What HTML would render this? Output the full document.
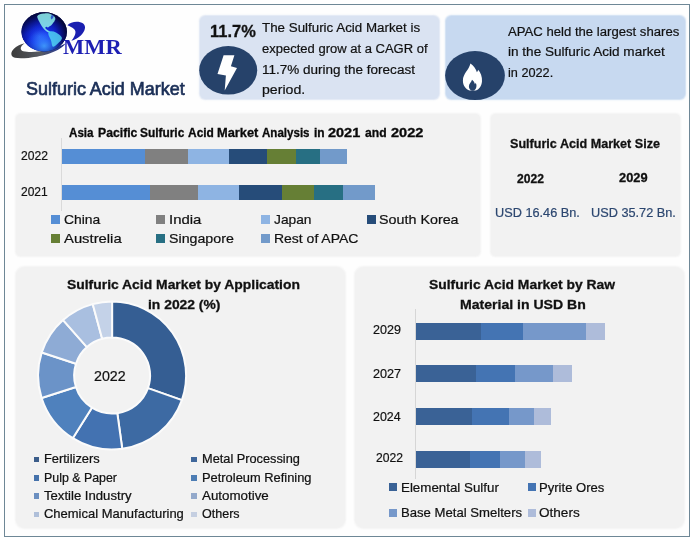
<!DOCTYPE html>
<html><head><meta charset="utf-8"><title>Sulfuric Acid Market</title>
<style>
html,body{margin:0;padding:0;background:#ffffff;}
body{width:694px;height:541px;position:relative;overflow:hidden;font-family:'Liberation Sans', sans-serif;}
</style></head><body>
<div style="position:absolute;left:4px;top:4px;width:686px;height:533px;border:1px solid #6e8796;box-sizing:border-box;background:#fefefe"></div>
<div style="position:absolute;left:199.8px;top:15.5px;width:239.5px;height:83.2px;background:#dae3f2;border-radius:6px;box-shadow:0 0 1.5px 0.2px rgba(218,227,242,0.9);"></div>
<div style="position:absolute;left:445.6px;top:15.5px;width:239.7px;height:83.0px;background:#c7d9f0;border-radius:6px;box-shadow:0 0 1.5px 0.2px rgba(199,217,240,0.9);"></div>
<div style="position:absolute;left:16.1px;top:114.2px;width:464.0px;height:141.7px;background:#f2f2f2;border-radius:5px;box-shadow:0 0 1.6px 0.3px rgba(242,242,242,0.95);"></div>
<div style="position:absolute;left:490.9px;top:114.2px;width:189.0px;height:141.7px;background:#f2f2f2;border-radius:5px;box-shadow:0 0 1.6px 0.3px rgba(242,242,242,0.95);"></div>
<div style="position:absolute;left:16.1px;top:266.7px;width:329.4px;height:261.7px;background:#f2f2f2;border-radius:9px;box-shadow:0 0 1.6px 0.3px rgba(242,242,242,0.95);"></div>
<div style="position:absolute;left:354.5px;top:266.7px;width:329.5px;height:261.7px;background:#f2f2f2;border-radius:9px;box-shadow:0 0 1.6px 0.3px rgba(242,242,242,0.95);"></div>
<div style="position:absolute;left:61.8px;top:148.9px;width:83.5px;height:14.9px;background:#558ed5;border-radius:0px;"></div>
<div style="position:absolute;left:145.3px;top:148.9px;width:42.5px;height:14.9px;background:#808080;border-radius:0px;"></div>
<div style="position:absolute;left:187.8px;top:148.9px;width:41.2px;height:14.9px;background:#8eb4e3;border-radius:0px;"></div>
<div style="position:absolute;left:229.0px;top:148.9px;width:38.0px;height:14.9px;background:#264c79;border-radius:0px;"></div>
<div style="position:absolute;left:267.0px;top:148.9px;width:29.4px;height:14.9px;background:#667f35;border-radius:0px;"></div>
<div style="position:absolute;left:296.4px;top:148.9px;width:23.9px;height:14.9px;background:#276f83;border-radius:0px;"></div>
<div style="position:absolute;left:320.3px;top:148.9px;width:26.8px;height:14.9px;background:#729aca;border-radius:0px;"></div>
<div style="position:absolute;left:61.8px;top:185.1px;width:87.9px;height:15.0px;background:#558ed5;border-radius:0px;"></div>
<div style="position:absolute;left:149.7px;top:185.1px;width:48.0px;height:15.0px;background:#808080;border-radius:0px;"></div>
<div style="position:absolute;left:197.7px;top:185.1px;width:41.4px;height:15.0px;background:#8eb4e3;border-radius:0px;"></div>
<div style="position:absolute;left:239.1px;top:185.1px;width:42.6px;height:15.0px;background:#264c79;border-radius:0px;"></div>
<div style="position:absolute;left:281.7px;top:185.1px;width:32.6px;height:15.0px;background:#667f35;border-radius:0px;"></div>
<div style="position:absolute;left:314.3px;top:185.1px;width:28.8px;height:15.0px;background:#276f83;border-radius:0px;"></div>
<div style="position:absolute;left:343.1px;top:185.1px;width:32.0px;height:15.0px;background:#729aca;border-radius:0px;"></div>
<div style="position:absolute;left:61.2px;top:138.0px;width:0.8px;height:72.5px;background:#dadada;border-radius:0px;"></div>
<div style="position:absolute;left:51.1px;top:215.0px;width:8.6px;height:8.7px;background:#558ed5;border-radius:0px;"></div>
<div style="position:absolute;left:156.3px;top:215.0px;width:8.6px;height:8.7px;background:#808080;border-radius:0px;"></div>
<div style="position:absolute;left:261.1px;top:215.0px;width:8.6px;height:8.7px;background:#8eb4e3;border-radius:0px;"></div>
<div style="position:absolute;left:367.4px;top:215.0px;width:8.6px;height:8.7px;background:#264c79;border-radius:0px;"></div>
<div style="position:absolute;left:51.1px;top:234.1px;width:8.6px;height:8.7px;background:#667f35;border-radius:0px;"></div>
<div style="position:absolute;left:156.3px;top:234.1px;width:8.6px;height:8.7px;background:#276f83;border-radius:0px;"></div>
<div style="position:absolute;left:261.1px;top:234.1px;width:8.6px;height:8.7px;background:#729aca;border-radius:0px;"></div>
<div style="position:absolute;left:415.8px;top:322.8px;width:65.2px;height:16.8px;background:#3a6296;border-radius:0px;"></div>
<div style="position:absolute;left:481.0px;top:322.8px;width:41.8px;height:16.8px;background:#4474b3;border-radius:0px;"></div>
<div style="position:absolute;left:522.8px;top:322.8px;width:63.4px;height:16.8px;background:#7698ca;border-radius:0px;"></div>
<div style="position:absolute;left:586.2px;top:322.8px;width:18.8px;height:16.8px;background:#aebcda;border-radius:0px;"></div>
<div style="position:absolute;left:415.8px;top:365.2px;width:60.3px;height:17.3px;background:#3a6296;border-radius:0px;"></div>
<div style="position:absolute;left:476.1px;top:365.2px;width:38.7px;height:17.3px;background:#4474b3;border-radius:0px;"></div>
<div style="position:absolute;left:514.8px;top:365.2px;width:38.3px;height:17.3px;background:#7698ca;border-radius:0px;"></div>
<div style="position:absolute;left:553.1px;top:365.2px;width:18.7px;height:17.3px;background:#aebcda;border-radius:0px;"></div>
<div style="position:absolute;left:415.8px;top:408.0px;width:56.0px;height:16.8px;background:#3a6296;border-radius:0px;"></div>
<div style="position:absolute;left:471.8px;top:408.0px;width:37.0px;height:16.8px;background:#4474b3;border-radius:0px;"></div>
<div style="position:absolute;left:508.8px;top:408.0px;width:25.0px;height:16.8px;background:#7698ca;border-radius:0px;"></div>
<div style="position:absolute;left:533.8px;top:408.0px;width:17.0px;height:16.8px;background:#aebcda;border-radius:0px;"></div>
<div style="position:absolute;left:415.8px;top:451.3px;width:54.0px;height:16.4px;background:#3a6296;border-radius:0px;"></div>
<div style="position:absolute;left:469.8px;top:451.3px;width:30.2px;height:16.4px;background:#4474b3;border-radius:0px;"></div>
<div style="position:absolute;left:500.0px;top:451.3px;width:24.9px;height:16.4px;background:#7698ca;border-radius:0px;"></div>
<div style="position:absolute;left:524.9px;top:451.3px;width:16.1px;height:16.4px;background:#aebcda;border-radius:0px;"></div>
<div style="position:absolute;left:415.0px;top:309.3px;width:0.9px;height:169.4px;background:#d6d6d6;border-radius:0px;"></div>
<div style="position:absolute;left:389.1px;top:483.4px;width:7.9px;height:7.9px;background:#3a6296;border-radius:0px;"></div>
<div style="position:absolute;left:528.2px;top:483.4px;width:7.9px;height:7.9px;background:#4474b3;border-radius:0px;"></div>
<div style="position:absolute;left:389.1px;top:508.9px;width:7.9px;height:7.9px;background:#7698ca;border-radius:0px;"></div>
<div style="position:absolute;left:528.2px;top:508.9px;width:7.9px;height:7.9px;background:#aebcda;border-radius:0px;"></div>
<div style="position:absolute;left:33.5px;top:456.6px;width:5.9px;height:5.6px;background:#3b5d8a;border-radius:0px;"></div>
<div style="position:absolute;left:33.5px;top:475.2px;width:5.9px;height:5.6px;background:#4572ab;border-radius:0px;"></div>
<div style="position:absolute;left:33.5px;top:493.4px;width:5.9px;height:5.6px;background:#6b8fc0;border-radius:0px;"></div>
<div style="position:absolute;left:33.5px;top:511.6px;width:5.9px;height:5.6px;background:#afbfd9;border-radius:0px;"></div>
<div style="position:absolute;left:191.2px;top:456.6px;width:5.9px;height:5.6px;background:#3f679b;border-radius:0px;"></div>
<div style="position:absolute;left:191.2px;top:475.2px;width:5.9px;height:5.6px;background:#4d7db4;border-radius:0px;"></div>
<div style="position:absolute;left:191.2px;top:493.4px;width:5.9px;height:5.6px;background:#93a9cb;border-radius:0px;"></div>
<div style="position:absolute;left:191.2px;top:511.6px;width:5.9px;height:5.6px;background:#c5cfe1;border-radius:0px;"></div>
<svg width="694" height="541" viewBox="0 0 694 541" style="position:absolute;left:0;top:0">
<defs>
<radialGradient id="gl" cx="0.42" cy="0.58" r="0.58" fx="0.40" fy="0.62">
<stop offset="0" stop-color="#2a5cff"/><stop offset="0.35" stop-color="#1632f0"/>
<stop offset="0.62" stop-color="#0e1fc0"/><stop offset="0.85" stop-color="#080f70"/><stop offset="1" stop-color="#04073a"/>
</radialGradient>
<linearGradient id="gl3" x1="0.1" y1="0.05" x2="0.55" y2="0.6">
<stop offset="0" stop-color="#02042c" stop-opacity="0.75"/><stop offset="0.55" stop-color="#02042c" stop-opacity="0.15"/><stop offset="1" stop-color="#02042c" stop-opacity="0"/>
</linearGradient>
<radialGradient id="gl2" cx="0.5" cy="0.86" r="0.42">
<stop offset="0" stop-color="#46a8ff" stop-opacity="0.85"/><stop offset="1" stop-color="#2a78f6" stop-opacity="0"/>
</radialGradient>
<linearGradient id="sw" x1="0" y1="0" x2="1" y2="0">
<stop offset="0" stop-color="#3c3c3c"/><stop offset="0.55" stop-color="#575b63"/><stop offset="0.85" stop-color="#2d3c8c"/><stop offset="1" stop-color="#0e1a7a"/>
</linearGradient>
<filter id="b1" x="-10%" y="-10%" width="120%" height="120%"><feGaussianBlur stdDeviation="0.45"/></filter>
</defs>
<!-- logo -->
<path d="M11.8,55.8 C9.6,51 15.5,45.6 24.6,43.2 C20.2,46.2 19.4,49.8 23.2,51.2 C33,53.6 52,50.6 65.4,43.6 C60.5,51.2 43.5,56.6 28.5,57.9 C19.5,58.7 13.3,58.4 11.8,55.8 Z" fill="url(#sw)" filter="url(#b1)"/>
<ellipse cx="44.2" cy="31.8" rx="22.7" ry="19.6" fill="#07105e"/>
<ellipse cx="44.2" cy="31.8" rx="22.7" ry="19.6" fill="url(#gl)"/>
<ellipse cx="44.2" cy="31.8" rx="22.7" ry="19.6" fill="url(#gl3)"/>
<ellipse cx="44.2" cy="31.8" rx="22.7" ry="19.6" fill="url(#gl2)"/>
<g filter="url(#b1)">
<path d="M37.2,16.2 C38.6,14.2 41.5,13.4 44.5,13.6 C46.5,12.9 49.5,13.3 51.5,14.6 C53.8,15.6 55.6,17.4 55.4,19.2 C54.6,20 54.8,21.4 53.4,22.4 C52.6,23.6 51.6,25.4 49.8,26.2 C48.6,26.4 48.6,27.8 47.6,27.4 C46.8,26.4 45.6,26.8 45.2,27.8 C45.6,29.2 47.4,30 49,31 C50,31.6 50.6,32.4 50.2,33 C48.6,32.8 46.4,31.6 44.6,29.8 C42.6,27.6 40.6,24.6 39.2,21.6 C38.2,19.6 37.2,18 37.2,16.2 Z" fill="#8cecea" opacity="0.88"/>
<path d="M48.8,31.6 C50.8,30.8 53.6,31 56,32.4 C58.6,33.8 61.4,35.8 62,38 C61.8,40 59.6,41.8 57.6,43.8 C56,45.4 54.4,47 52.8,46.8 C51.6,45.4 51.8,43 51,40.6 C50.2,38 48.4,35.6 48.2,33.4 Z" fill="#4fd0f2" opacity="0.85"/>
</g>
<path d="M52,14.8 C50.5,16.5 50.2,18.6 51.6,19.4 C52.6,18.6 53.4,17.4 53.8,16 Z" fill="#1436c8" opacity="0.75"/>
<path d="M67.4,25.2 C70.5,21.6 79,20.6 83.2,23.6 C86.6,26.4 85,31.6 80.8,35.6 C78,38.2 74.6,40 71.4,40.8 C74.2,37.4 76.2,33.6 75.2,30.8 C74.2,28 70.4,26.6 67.4,25.2 Z" fill="#1a1fb0"/>
<!-- bolt icon -->
<ellipse cx="228.2" cy="70.3" rx="29" ry="24.2" fill="#26426a"/>
<path d="M223.6,55.3 L234.4,55.3 L230.9,66.3 L237.0,67.9 L224.7,90.4 L225.9,75.4 L217.5,73.9 Z" fill="#ffffff"/>
<!-- flame icon -->
<ellipse cx="475" cy="75.6" rx="29.9" ry="24.5" fill="#26426a"/>
<path d="M470.4,63.6 C473.5,65.5 476.2,69.5 476.9,72.2 C477.6,71.4 478.0,70.6 478.1,69.7 C480.6,72.3 482.3,76.6 482.0,81.3 C481.7,86.4 478.6,89.8 476.0,90.5 L469.6,90.5 C466.0,89.4 462.9,86.0 462.9,80.6 C462.9,73.8 469.0,70.0 470.4,63.6 Z" fill="#ffffff"/>
<path d="M472.0,79.8 C473.6,81.0 474.6,82.6 474.9,84.2 C475.3,83.8 475.5,83.3 475.6,82.8 C476.4,84.0 476.7,85.6 476.3,87.3 C475.9,89.0 474.7,90.3 473.4,90.7 L472.0,90.7 C470.3,90.2 468.9,88.6 468.9,86.4 C468.9,83.5 471.4,82.4 472.0,79.8 Z" fill="#26426a"/>
<!-- donut -->
<path d="M112.10,301.50 A74.0,74.0 0 0 1 181.90,400.08 L147.94,388.12 A38.0,38.0 0 0 0 112.10,337.50 Z" fill="#355e93" stroke="#fbfbfb" stroke-width="2" stroke-linejoin="round"/>
<path d="M181.90,400.08 A74.0,74.0 0 0 1 122.27,448.80 L117.32,413.14 A38.0,38.0 0 0 0 147.94,388.12 Z" fill="#3d6aa3" stroke="#fbfbfb" stroke-width="2" stroke-linejoin="round"/>
<path d="M122.27,448.80 A74.0,74.0 0 0 1 72.78,438.19 L91.91,407.69 A38.0,38.0 0 0 0 117.32,413.14 Z" fill="#4372b1" stroke="#fbfbfb" stroke-width="2" stroke-linejoin="round"/>
<path d="M72.78,438.19 A74.0,74.0 0 0 1 41.60,398.00 L75.90,387.05 A38.0,38.0 0 0 0 91.91,407.69 Z" fill="#4f81bd" stroke="#fbfbfb" stroke-width="2" stroke-linejoin="round"/>
<path d="M41.60,398.00 A74.0,74.0 0 0 1 41.76,352.51 L75.98,363.69 A38.0,38.0 0 0 0 75.90,387.05 Z" fill="#6b93c8" stroke="#fbfbfb" stroke-width="2" stroke-linejoin="round"/>
<path d="M41.76,352.51 A74.0,74.0 0 0 1 63.07,320.08 L86.92,347.04 A38.0,38.0 0 0 0 75.98,363.69 Z" fill="#8eabd5" stroke="#fbfbfb" stroke-width="2" stroke-linejoin="round"/>
<path d="M63.07,320.08 A74.0,74.0 0 0 1 92.70,304.09 L102.14,338.83 A38.0,38.0 0 0 0 86.92,347.04 Z" fill="#a9bfe0" stroke="#fbfbfb" stroke-width="2" stroke-linejoin="round"/>
<path d="M92.70,304.09 A74.0,74.0 0 0 1 112.10,301.50 L112.10,337.50 A38.0,38.0 0 0 0 102.14,338.83 Z" fill="#c4d2e8" stroke="#fbfbfb" stroke-width="2" stroke-linejoin="round"/>
</svg>
<span id="t0" style="position:absolute;left:62.72px;top:36.85px;font:700 20px/20px 'Liberation Serif', serif;color:#1d1fb3;white-space:nowrap;transform-origin:0 0;transform:scaleX(1.1254);">MMR</span>
<span id="t1" style="position:absolute;left:26.22px;top:79.98px;font:400 18.81px/18.81px 'Liberation Sans', sans-serif;color:#1b2f57;white-space:nowrap;transform-origin:0 0;transform:scaleX(0.9551);-webkit-text-stroke:0.7px #1b2f57;">Sulfuric Acid Market</span>
<span id="t2" style="position:absolute;left:209.71px;top:23.85px;font:700 16.72px/16.72px 'Liberation Sans', sans-serif;color:#111;white-space:nowrap;transform-origin:0 0;transform:scaleX(0.9856);-webkit-text-stroke:0.3px #111;">11.7%</span>
<span id="t3" style="position:absolute;left:261.98px;top:20.81px;font:400 13.69px/13.69px 'Liberation Sans', sans-serif;color:#111;white-space:nowrap;transform-origin:0 0;transform:scaleX(0.9757);-webkit-text-stroke:0.22px #111;">The Sulfuric Acid Market is</span>
<span id="t4" style="position:absolute;left:262.01px;top:41.81px;font:400 13.69px/13.69px 'Liberation Sans', sans-serif;color:#111;white-space:nowrap;transform-origin:0 0;transform:scaleX(0.9501);-webkit-text-stroke:0.22px #111;">expected grow at a CAGR of</span>
<span id="t5" style="position:absolute;left:261.97px;top:62.61px;font:400 13.69px/13.69px 'Liberation Sans', sans-serif;color:#111;white-space:nowrap;transform-origin:0 0;transform:scaleX(0.9866);-webkit-text-stroke:0.22px #111;">11.7% during the forecast</span>
<span id="t6" style="position:absolute;left:261.93px;top:82.71px;font:400 13.69px/13.69px 'Liberation Sans', sans-serif;color:#111;white-space:nowrap;transform-origin:0 0;transform:scaleX(1.0325);-webkit-text-stroke:0.22px #111;">period.</span>
<span id="t7" style="position:absolute;left:508.20px;top:24.91px;font:400 13.69px/13.69px 'Liberation Sans', sans-serif;color:#111;white-space:nowrap;transform-origin:0 0;transform:scaleX(0.9593);-webkit-text-stroke:0.22px #111;">APAC held the largest shares</span>
<span id="t8" style="position:absolute;left:508.17px;top:45.01px;font:400 13.69px/13.69px 'Liberation Sans', sans-serif;color:#111;white-space:nowrap;transform-origin:0 0;transform:scaleX(0.9910);-webkit-text-stroke:0.22px #111;">in the Sulfuric Acid market</span>
<span id="t9" style="position:absolute;left:508.23px;top:65.71px;font:400 13.69px/13.69px 'Liberation Sans', sans-serif;color:#111;white-space:nowrap;transform-origin:0 0;transform:scaleX(0.9277);-webkit-text-stroke:0.22px #111;">in 2022.</span>
<span id="t10" style="position:absolute;left:69.26px;top:126.93px;font:700 12.02px/12.02px 'Liberation Sans', sans-serif;color:#0a0a0a;white-space:nowrap;transform-origin:0 0;transform:scaleX(0.9663);-webkit-text-stroke:0.3px #0a0a0a;">Asia</span>
<span id="t11" style="position:absolute;left:97.54px;top:126.93px;font:700 12.02px/12.02px 'Liberation Sans', sans-serif;color:#0a0a0a;white-space:nowrap;transform-origin:0 0;transform:scaleX(1.0172);-webkit-text-stroke:0.3px #0a0a0a;">Pacific</span>
<span id="t12" style="position:absolute;left:140.35px;top:126.93px;font:700 12.02px/12.02px 'Liberation Sans', sans-serif;color:#0a0a0a;white-space:nowrap;transform-origin:0 0;transform:scaleX(0.9898);-webkit-text-stroke:0.3px #0a0a0a;">Sulfuric</span>
<span id="t13" style="position:absolute;left:188.45px;top:126.93px;font:700 12.02px/12.02px 'Liberation Sans', sans-serif;color:#0a0a0a;white-space:nowrap;transform-origin:0 0;transform:scaleX(0.9941);-webkit-text-stroke:0.3px #0a0a0a;">Acid</span>
<span id="t14" style="position:absolute;left:217.10px;top:126.93px;font:700 12.02px/12.02px 'Liberation Sans', sans-serif;color:#0a0a0a;white-space:nowrap;transform-origin:0 0;transform:scaleX(1.0684);-webkit-text-stroke:0.3px #0a0a0a;">Market</span>
<span id="t15" style="position:absolute;left:262.46px;top:126.93px;font:700 12.02px/12.02px 'Liberation Sans', sans-serif;color:#0a0a0a;white-space:nowrap;transform-origin:0 0;transform:scaleX(0.9621);-webkit-text-stroke:0.3px #0a0a0a;">Analysis</span>
<span id="t16" style="position:absolute;left:314.05px;top:126.93px;font:700 12.02px/12.02px 'Liberation Sans', sans-serif;color:#0a0a0a;white-space:nowrap;transform-origin:0 0;transform:scaleX(0.9946);-webkit-text-stroke:0.3px #0a0a0a;">in</span>
<span id="t17" style="position:absolute;left:328.30px;top:126.93px;font:700 12.02px/12.02px 'Liberation Sans', sans-serif;color:#0a0a0a;white-space:nowrap;transform-origin:0 0;transform:scaleX(1.2038);-webkit-text-stroke:0.3px #0a0a0a;">2021</span>
<span id="t18" style="position:absolute;left:364.85px;top:126.93px;font:700 12.02px/12.02px 'Liberation Sans', sans-serif;color:#0a0a0a;white-space:nowrap;transform-origin:0 0;transform:scaleX(1.0098);-webkit-text-stroke:0.3px #0a0a0a;">and</span>
<span id="t19" style="position:absolute;left:390.80px;top:126.93px;font:700 12.02px/12.02px 'Liberation Sans', sans-serif;color:#0a0a0a;white-space:nowrap;transform-origin:0 0;transform:scaleX(1.2076);-webkit-text-stroke:0.3px #0a0a0a;">2022</span>
<span id="t20" style="position:absolute;left:21.15px;top:148.70px;font:400 13.58px/13.58px 'Liberation Sans', sans-serif;color:#111;white-space:nowrap;transform-origin:0 0;transform:scaleX(0.8931);-webkit-text-stroke:0.22px #111;">2022</span>
<span id="t21" style="position:absolute;left:21.16px;top:184.70px;font:400 13.58px/13.58px 'Liberation Sans', sans-serif;color:#111;white-space:nowrap;transform-origin:0 0;transform:scaleX(0.8855);-webkit-text-stroke:0.22px #111;">2021</span>
<span id="t22" style="position:absolute;left:64.35px;top:212.70px;font:400 13.58px/13.58px 'Liberation Sans', sans-serif;color:#111;white-space:nowrap;transform-origin:0 0;transform:scaleX(1.0212);-webkit-text-stroke:0.22px #111;">China</span>
<span id="t23" style="position:absolute;left:168.87px;top:212.70px;font:400 13.58px/13.58px 'Liberation Sans', sans-serif;color:#111;white-space:nowrap;transform-origin:0 0;transform:scaleX(1.0995);-webkit-text-stroke:0.22px #111;">India</span>
<span id="t24" style="position:absolute;left:274.05px;top:212.70px;font:400 13.58px/13.58px 'Liberation Sans', sans-serif;color:#111;white-space:nowrap;transform-origin:0 0;transform:scaleX(1.0137);-webkit-text-stroke:0.22px #111;">Japan</span>
<span id="t25" style="position:absolute;left:379.41px;top:212.70px;font:400 13.58px/13.58px 'Liberation Sans', sans-serif;color:#111;white-space:nowrap;transform-origin:0 0;transform:scaleX(1.0541);-webkit-text-stroke:0.22px #111;">South Korea</span>
<span id="t26" style="position:absolute;left:64.27px;top:231.80px;font:400 13.58px/13.58px 'Liberation Sans', sans-serif;color:#111;white-space:nowrap;transform-origin:0 0;transform:scaleX(1.0911);-webkit-text-stroke:0.22px #111;">Austrelia</span>
<span id="t27" style="position:absolute;left:168.92px;top:231.80px;font:400 13.58px/13.58px 'Liberation Sans', sans-serif;color:#111;white-space:nowrap;transform-origin:0 0;transform:scaleX(1.0468);-webkit-text-stroke:0.22px #111;">Singapore</span>
<span id="t28" style="position:absolute;left:274.04px;top:231.80px;font:400 13.58px/13.58px 'Liberation Sans', sans-serif;color:#111;white-space:nowrap;transform-origin:0 0;transform:scaleX(1.0290);-webkit-text-stroke:0.22px #111;">Rest of APAC</span>
<span id="t29" style="position:absolute;left:510.17px;top:136.50px;font:700 13.58px/13.58px 'Liberation Sans', sans-serif;color:#111;white-space:nowrap;transform-origin:0 0;transform:scaleX(0.9271);-webkit-text-stroke:0.3px #111;">Sulfuric Acid Market Size</span>
<span id="t30" style="position:absolute;left:517.18px;top:171.60px;font:700 13.58px/13.58px 'Liberation Sans', sans-serif;color:#111;white-space:nowrap;transform-origin:0 0;transform:scaleX(0.8915);-webkit-text-stroke:0.3px #111;">2022</span>
<span id="t31" style="position:absolute;left:619.06px;top:170.70px;font:700 13.58px/13.58px 'Liberation Sans', sans-serif;color:#111;white-space:nowrap;transform-origin:0 0;transform:scaleX(0.9458);-webkit-text-stroke:0.3px #111;">2029</span>
<span id="t32" style="position:absolute;left:495.26px;top:205.50px;font:400 13.58px/13.58px 'Liberation Sans', sans-serif;color:#2c4770;white-space:nowrap;transform-origin:0 0;transform:scaleX(0.9367);-webkit-text-stroke:0.22px #2c4770;">USD 16.46 Bn.</span>
<span id="t33" style="position:absolute;left:591.16px;top:205.50px;font:400 13.58px/13.58px 'Liberation Sans', sans-serif;color:#2c4770;white-space:nowrap;transform-origin:0 0;transform:scaleX(0.9367);-webkit-text-stroke:0.22px #2c4770;">USD 35.72 Bn.</span>
<span id="t34" style="position:absolute;left:67.44px;top:277.60px;font:700 13.58px/13.58px 'Liberation Sans', sans-serif;color:#111;white-space:nowrap;transform-origin:0 0;transform:scaleX(1.0236);-webkit-text-stroke:0.3px #111;">Sulfuric Acid Market by Application</span>
<span id="t35" style="position:absolute;left:147.63px;top:297.80px;font:700 13.58px/13.58px 'Liberation Sans', sans-serif;color:#111;white-space:nowrap;transform-origin:0 0;transform:scaleX(1.0208);-webkit-text-stroke:0.3px #111;">in 2022 (%)</span>
<span id="t36" style="position:absolute;left:94.28px;top:368.65px;font:400 14.94px/14.94px 'Liberation Sans', sans-serif;color:#111;white-space:nowrap;transform-origin:0 0;transform:scaleX(0.9543);-webkit-text-stroke:0.22px #111;">2022</span>
<span id="t37" style="position:absolute;left:43.72px;top:452.76px;font:400 12.33px/12.33px 'Liberation Sans', sans-serif;color:#111;white-space:nowrap;transform-origin:0 0;transform:scaleX(1.0430);-webkit-text-stroke:0.22px #111;">Fertilizers</span>
<span id="t38" style="position:absolute;left:43.76px;top:471.56px;font:400 12.33px/12.33px 'Liberation Sans', sans-serif;color:#111;white-space:nowrap;transform-origin:0 0;transform:scaleX(1.0047);-webkit-text-stroke:0.22px #111;">Pulp &amp; Paper</span>
<span id="t39" style="position:absolute;left:43.70px;top:489.56px;font:400 12.33px/12.33px 'Liberation Sans', sans-serif;color:#111;white-space:nowrap;transform-origin:0 0;transform:scaleX(1.0650);-webkit-text-stroke:0.22px #111;">Textile Industry</span>
<span id="t40" style="position:absolute;left:43.71px;top:507.76px;font:400 12.33px/12.33px 'Liberation Sans', sans-serif;color:#111;white-space:nowrap;transform-origin:0 0;transform:scaleX(1.0517);-webkit-text-stroke:0.22px #111;">Chemical Manufacturing</span>
<span id="t41" style="position:absolute;left:201.73px;top:452.76px;font:400 12.33px/12.33px 'Liberation Sans', sans-serif;color:#111;white-space:nowrap;transform-origin:0 0;transform:scaleX(1.0354);-webkit-text-stroke:0.22px #111;">Metal Processing</span>
<span id="t42" style="position:absolute;left:201.72px;top:471.56px;font:400 12.33px/12.33px 'Liberation Sans', sans-serif;color:#111;white-space:nowrap;transform-origin:0 0;transform:scaleX(1.0444);-webkit-text-stroke:0.22px #111;">Petroleum Refining</span>
<span id="t43" style="position:absolute;left:201.69px;top:489.56px;font:400 12.33px/12.33px 'Liberation Sans', sans-serif;color:#111;white-space:nowrap;transform-origin:0 0;transform:scaleX(1.0827);-webkit-text-stroke:0.22px #111;">Automotive</span>
<span id="t44" style="position:absolute;left:201.75px;top:507.76px;font:400 12.33px/12.33px 'Liberation Sans', sans-serif;color:#111;white-space:nowrap;transform-origin:0 0;transform:scaleX(1.0164);-webkit-text-stroke:0.22px #111;">Others</span>
<span id="t45" style="position:absolute;left:429.24px;top:277.60px;font:700 13.58px/13.58px 'Liberation Sans', sans-serif;color:#111;white-space:nowrap;transform-origin:0 0;transform:scaleX(1.0214);-webkit-text-stroke:0.3px #111;">Sulfuric Acid Market by Raw</span>
<span id="t46" style="position:absolute;left:460.22px;top:297.80px;font:700 13.58px/13.58px 'Liberation Sans', sans-serif;color:#111;white-space:nowrap;transform-origin:0 0;transform:scaleX(1.0358);-webkit-text-stroke:0.3px #111;">Material in USD Bn</span>
<span id="t47" style="position:absolute;left:372.64px;top:323.30px;font:400 13.58px/13.58px 'Liberation Sans', sans-serif;color:#111;white-space:nowrap;transform-origin:0 0;transform:scaleX(0.9231);-webkit-text-stroke:0.22px #111;">2029</span>
<span id="t48" style="position:absolute;left:372.63px;top:366.80px;font:400 13.58px/13.58px 'Liberation Sans', sans-serif;color:#111;white-space:nowrap;transform-origin:0 0;transform:scaleX(0.9310);-webkit-text-stroke:0.22px #111;">2027</span>
<span id="t49" style="position:absolute;left:372.64px;top:409.50px;font:400 13.58px/13.58px 'Liberation Sans', sans-serif;color:#111;white-space:nowrap;transform-origin:0 0;transform:scaleX(0.9153);-webkit-text-stroke:0.22px #111;">2024</span>
<span id="t50" style="position:absolute;left:376.05px;top:450.70px;font:400 13.58px/13.58px 'Liberation Sans', sans-serif;color:#111;white-space:nowrap;transform-origin:0 0;transform:scaleX(0.8931);-webkit-text-stroke:0.22px #111;">2022</span>
<span id="t51" style="position:absolute;left:400.69px;top:480.70px;font:400 13.58px/13.58px 'Liberation Sans', sans-serif;color:#111;white-space:nowrap;transform-origin:0 0;transform:scaleX(0.9820);-webkit-text-stroke:0.22px #111;">Elemental Sulfur</span>
<span id="t52" style="position:absolute;left:539.21px;top:480.70px;font:400 13.58px/13.58px 'Liberation Sans', sans-serif;color:#111;white-space:nowrap;transform-origin:0 0;transform:scaleX(0.9629);-webkit-text-stroke:0.22px #111;">Pyrite Ores</span>
<span id="t53" style="position:absolute;left:400.70px;top:505.50px;font:400 13.58px/13.58px 'Liberation Sans', sans-serif;color:#111;white-space:nowrap;transform-origin:0 0;transform:scaleX(0.9664);-webkit-text-stroke:0.22px #111;">Base Metal Smelters</span>
<span id="t54" style="position:absolute;left:539.17px;top:505.50px;font:400 13.58px/13.58px 'Liberation Sans', sans-serif;color:#111;white-space:nowrap;transform-origin:0 0;transform:scaleX(0.9995);-webkit-text-stroke:0.22px #111;">Others</span>
</body></html>
